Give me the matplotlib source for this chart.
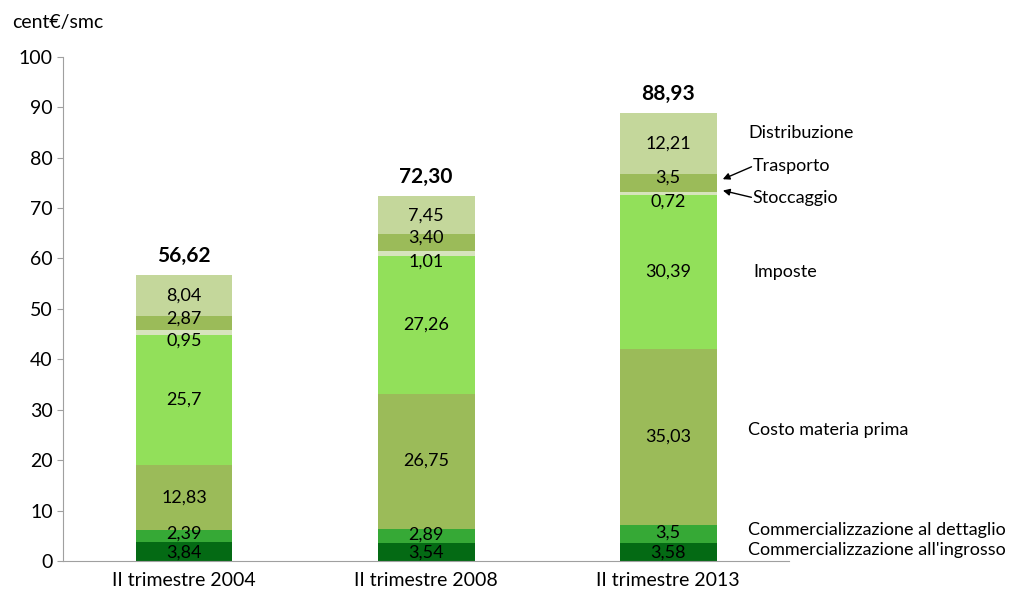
import matplotlib
matplotlib.use("Agg")
import matplotlib.pyplot as plt
import numpy as np

plt.rcParams.update({
    "font.family": ["Lato", "DejaVu Sans"],
    "font.size": 13,
})

CATEGORIES = ["II trimestre 2004", "II trimestre 2008", "II trimestre 2013"]
SEGMENTS = ["Commercializzazione all'ingrosso", "Commercializzazione al dettaglio",
            "Costo materia prima", "Imposte", "Stoccaggio", "Trasporto", "Distribuzione"]
ingrosso = [3.84, 3.54, 3.58]
dettaglio = [2.39, 2.89, 3.5]
materia_prima = [12.83, 26.75, 35.03]
imposte = [25.7, 27.26, 30.39]
stoccaggio = [0.95, 1.01, 0.72]
trasporto = [2.87, 3.40, 3.5]
distribuzione = [8.04, 7.45, 12.21]
totals = [56.62, 72.30, 88.93]

LABELS = [
    ["3,84", "3,54", "3,58"],
    ["2,39", "2,89", "3,5"],
    ["12,83", "26,75", "35,03"],
    ["25,7", "27,26", "30,39"],
    ["0,95", "1,01", "0,72"],
    ["2,87", "3,40", "3,5"],
    ["8,04", "7,45", "12,21"],
]
TOTAL_LABELS = ["56,62", "72,30", "88,93"]

COLORS = ["#046a14", "#36a936", "#9bbb59", "#92e05a", "#d7e4bd", "#9bbb59", "#c4d79b"]
# small vertical nudges of the value labels (data units) to keep them apart
NUDGE = [-0.2, 0.3, 0, 0, -1.6, 1.0, 0]

series = [ingrosso, dettaglio, materia_prima, imposte, stoccaggio, trasporto, distribuzione]

fig = plt.figure(figsize=(10.17, 5.98), dpi=100)
ax = fig.add_axes([0.062, 0.062, 0.714, 0.843])

x = np.arange(len(CATEGORIES))
bottom = np.zeros(len(CATEGORIES))
for vals, col, labs, dy in zip(series, COLORS, LABELS, NUDGE):
    vals = np.array(vals)
    ax.bar(x, vals, 0.4, bottom=bottom, color=col, edgecolor="none")
    for i in range(len(x)):
        ax.text(x[i], bottom[i] + vals[i] / 2 + dy, labs[i], ha="center", va="center",
                fontsize=13, color="black")
    bottom += vals

for i, t in enumerate(totals):
    ax.text(x[i], t + 1.8, TOTAL_LABELS[i], ha="center", va="bottom",
            fontsize=15, fontweight="bold")

ax.set_xlim(-0.5, 2.5)
ax.set_ylim(0, 100)
ax.set_yticks(range(0, 101, 10))
ax.set_xticks(x)
ax.set_xticklabels(CATEGORIES, fontsize=14)
ax.tick_params(axis="y", labelsize=14, length=4, color="#a0a0a0")
ax.tick_params(axis="x", length=0, pad=8)
for s in ["top", "right"]:
    ax.spines[s].set_visible(False)
for s in ["left", "bottom"]:
    ax.spines[s].set_color("#a0a0a0")

fig.text(0.012, 0.962, "cent€/smc", fontsize=14, ha="left", va="center")

# segment names on the right
ax.text(2.33, 84.9, "Distribuzione", fontsize=13, va="center")
ax.text(2.35, 78.4, "Trasporto", fontsize=13, va="center")
ax.text(2.35, 72.0, "Stoccaggio", fontsize=13, va="center")
ax.text(2.35, 57.4, "Imposte", fontsize=13, va="center")
ax.text(2.33, 26.0, "Costo materia prima", fontsize=13, va="center")
ax.text(2.33, 6.2, "Commercializzazione al dettaglio", fontsize=13, va="center")
ax.text(2.33, 2.2, "Commercializzazione all'ingrosso", fontsize=13, va="center")

ax.annotate("", xy=(2.215, 75.5), xytext=(2.355, 78.4),
            arrowprops=dict(arrowstyle="-|>", color="black", lw=1, mutation_scale=10))
ax.annotate("", xy=(2.215, 73.6), xytext=(2.355, 72.0),
            arrowprops=dict(arrowstyle="-|>", color="black", lw=1, mutation_scale=10))

fig.savefig("out.png", dpi=100)
